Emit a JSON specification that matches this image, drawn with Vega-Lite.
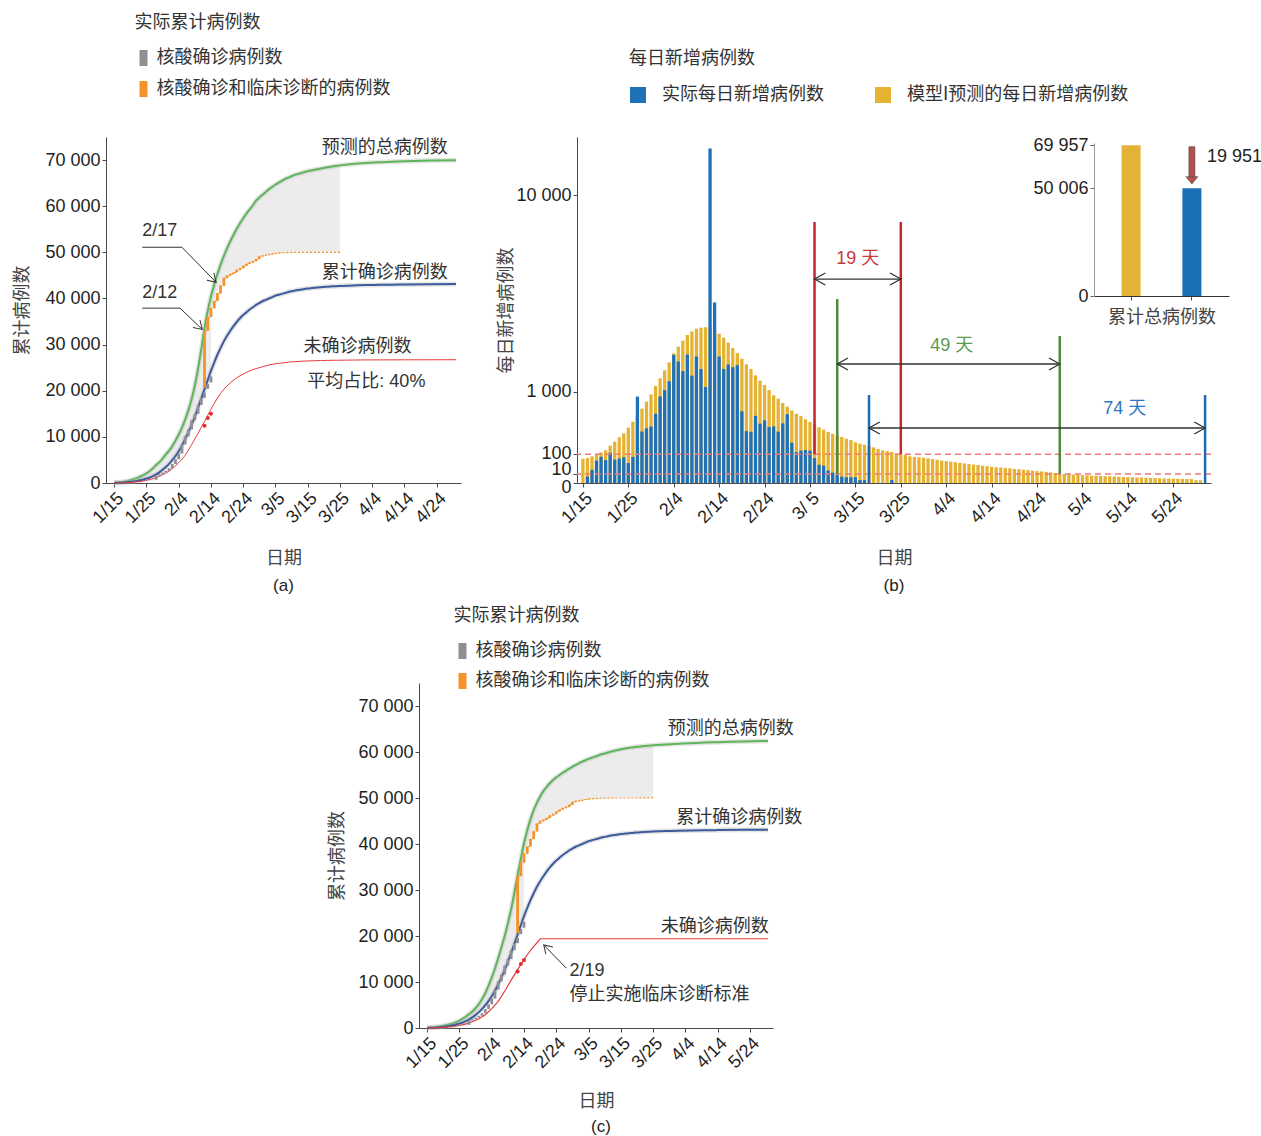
{
  "$schema": "https://vega.github.io/schema/vega-lite/v6.json",
  "padding": {"left": 13, "top": 14, "right": 0, "bottom": 0},
  "columns": 2,
  "align": {"row": "all", "column": "each"},
  "bounds": "flush",
  "spacing": {"row": 200, "column": 116},
  "resolve": {"scale": {"color": "independent"}, "legend": {"color": "independent"}},
  "config": {
    "view": {"stroke": null},
    "font": "Liberation Sans, Noto Sans CJK SC",
    "axis": {"grid": false, "domainColor": "#4a4a4a", "tickColor": "#4a4a4a", "tickSize": 4, "labelFont": "Liberation Sans", "labelFontSize": 18, "labelColor": "#1e1e1e", "labelPadding": 2, "titleFont": "Noto Sans CJK SC", "titleFontSize": 18, "titleFontWeight": "normal", "titleColor": "#444444"},
    "legend": {"titleFont": "Noto Sans CJK SC", "titleFontSize": 18, "titleFontWeight": "normal", "titleColor": "#333333", "labelFont": "Noto Sans CJK SC", "labelFontSize": 18, "labelColor": "#333333", "padding": 0, "labelLimit": 0, "titleLimit": 0},
    "title": {"font": "Liberation Sans", "fontSize": 17, "fontWeight": "normal", "color": "#222222"}
  },
  "datasets": {
    "ca": [
      {"d":0,"g":50,"b":20,"r":0},{"d":1,"g":100,"b":50},{"d":2,"g":200,"b":80,"r":30},{"d":3,"g":300,"b":130},{"d":4,"g":450,"b":190,"r":80},{"d":5,"g":600,"b":260},{"d":6,"g":800,"b":350,"r":180},{"d":7,"g":1050,"b":460},{"d":8,"g":1350,"b":600,"r":330},{"d":9,"g":1700,"b":770},{"d":10,"g":2100,"b":970,"r":580},{"d":11,"g":2600,"b":1200},{"d":12,"g":3200,"b":1500,"r":950},{"d":13,"g":3900,"b":1850},{"d":14,"g":4500,"b":2300,"r":1450},{"d":15,"g":5300,"b":2850},{"d":16,"g":6200,"b":3450,"r":2150},{"d":17,"g":7000,"b":4150},{"d":18,"g":8000,"b":4950,"r":3100},{"d":19,"g":9200,"b":5850},{"d":20,"g":10500,"b":6900,"r":4400},{"d":21,"g":12000,"b":8100},{"d":22,"g":13800,"b":9500,"r":6000},{"d":23,"g":15800,"b":11000},{"d":24,"g":18200,"b":12600,"r":8300},{"d":25,"g":21200,"b":14400},{"d":26,"g":24800,"b":16300,"r":10800},{"d":27,"g":29000,"b":18300},
      {"d":28,"g":33600,"b":20300,"r":13300,"o":32994},{"d":29,"g":37300,"b":22300,"o":35991},{"d":30,"g":40400,"b":24300,"r":16000,"o":37914},{"d":31,"g":43000,"b":26100,"o":39462},{"d":32,"g":45300,"b":27800,"r":18400,"o":41152},{"d":33,"g":47400,"b":29300,"o":42752},{"d":34,"g":49200,"b":30700,"r":20300,"o":44412},{"d":35,"g":50900,"b":31900,"o":45027},{"d":36,"g":52400,"b":33000,"r":21700,"o":45346},{"d":37,"g":53800,"b":34000,"o":45660},{"d":38,"g":55100,"b":34900,"r":22800,"o":46201},{"d":39,"g":56300,"b":35700,"o":46607},{"d":40,"g":57400,"b":36400,"r":23600,"o":47071},{"d":41,"g":58400,"b":37000,"o":47441},{"d":42,"g":59300,"b":37600,"r":24300,"o":47824},{"d":43,"g":60200,"b":38100,"o":48137},{"d":44,"g":61200,"b":38600,"r":24800,"o":48557},{"d":45,"g":61900,"b":39000,"o":49122},{"d":46,"g":62500,"b":39400,"r":25200,"o":49315},{"d":47,"g":63100,"b":39700,"o":49426},{"d":48,"g":63700,"b":40000,"r":25600,"o":49557},{"d":49,"g":64200,"b":40300,"o":49671},{"d":50,"g":64700,"b":40600,"r":25850,"o":49797},{"d":51,"g":65100,"b":40800,"o":49871},{"d":52,"g":65500,"b":41000,"r":26000,"o":49912},{"d":53,"g":65900,"b":41200,"o":49948},{"d":54,"g":66200,"b":41400,"r":26200,"o":49965},{"d":55,"g":66500,"b":41550,"o":49978},{"d":56,"g":66800,"b":41700,"r":26300,"o":49986},{"d":57,"g":67000,"b":41830,"o":49991},{"d":58,"g":67200,"b":41950,"r":26400,"o":49995},{"d":59,"g":67400,"b":42050,"o":49999},{"d":60,"g":67600,"b":42150,"r":26450,"o":50002},{"d":61,"g":67750,"b":42230,"o":50003},{"d":62,"g":67900,"b":42300,"r":26500,"o":50004},{"d":63,"g":68000,"b":42380,"o":50005},{"d":64,"g":68150,"b":42450,"r":26550,"o":50005},{"d":65,"g":68300,"b":42500,"o":50005},{"d":66,"g":68450,"b":42550,"r":26580,"o":50006},{"d":67,"g":68550,"b":42600,"o":50006},{"d":68,"g":68650,"b":42640,"r":26600,"o":50006},{"d":69,"g":68750,"b":42670,"o":50006},{"d":70,"g":68850,"b":42700,"r":26620,"o":50006},
      {"d":74,"g":69150,"b":42800},{"d":78,"g":69350,"b":42900,"r":26680},{"d":82,"g":69500,"b":42950},{"d":86,"g":69650,"b":42990},{"d":90,"g":69750,"b":43020,"r":26700},{"d":98,"g":69880,"b":43080},{"d":106,"g":69957,"b":43120,"r":26720}
    ],
    "cc": [
      {"d":0,"g":50,"b":20,"r":0},{"d":1,"g":100,"b":50},{"d":2,"g":150,"b":80,"r":30},{"d":3,"g":250,"b":130},{"d":4,"g":350,"b":190,"r":80},{"d":5,"g":500,"b":260},{"d":6,"g":650,"b":350,"r":180},{"d":7,"g":820,"b":460},{"d":8,"g":1000,"b":600,"r":330},{"d":9,"g":1280,"b":770},{"d":10,"g":1600,"b":970,"r":550},{"d":11,"g":2030,"b":1200},{"d":12,"g":2500,"b":1500,"r":900},{"d":13,"g":3030,"b":1850},{"d":14,"g":3600,"b":2300,"r":1350},{"d":15,"g":4350,"b":2850},{"d":16,"g":5200,"b":3450,"r":2000},{"d":17,"g":6300,"b":4150},{"d":18,"g":7600,"b":4950,"r":2900},{"d":19,"g":9200,"b":5850},{"d":20,"g":11000,"b":6900,"r":4200},{"d":21,"g":13000,"b":8100},{"d":22,"g":15200,"b":9500,"r":5800},{"d":23,"g":17600,"b":11000},{"d":24,"g":20000,"b":12600,"r":8000},{"d":25,"g":22800,"b":14400},{"d":26,"g":25800,"b":16300,"r":10400},{"d":27,"g":29400,"b":18300},
      {"d":28,"g":33200,"b":20300,"r":12700,"o":32994},{"d":29,"g":36800,"b":22300,"o":35991},{"d":30,"g":40200,"b":24300,"r":14900,"o":37914},{"d":31,"g":43000,"b":26100,"o":39462},{"d":32,"g":45400,"b":27800,"r":16900,"o":41152},{"d":33,"g":47400,"b":29300,"o":42752},{"d":34,"g":49000,"b":30700,"o":44412},{"d":35,"g":50400,"b":31900,"r":19400,"o":45027},{"d":36,"g":51500,"b":33000,"o":45346},{"d":37,"g":52400,"b":34000,"o":45660},{"d":38,"g":53200,"b":34900,"o":46201},{"d":39,"g":53900,"b":35700,"o":46607},{"d":40,"g":54500,"b":36400,"o":47071},{"d":41,"g":55000,"b":37000,"o":47441},{"d":42,"g":55500,"b":37600,"o":47824},{"d":43,"g":55950,"b":38100,"o":48137},{"d":44,"g":56400,"b":38600,"o":48557},{"d":45,"g":56800,"b":39000,"o":49122},{"d":46,"g":57200,"b":39400,"o":49315},{"d":47,"g":57550,"b":39700,"o":49426},{"d":48,"g":57900,"b":40000,"o":49557},{"d":49,"g":58200,"b":40300,"o":49671},{"d":50,"g":58500,"b":40600,"o":49797},{"d":51,"g":58750,"b":40800,"o":49871},{"d":52,"g":59000,"b":41000,"o":49912},{"d":53,"g":59250,"b":41200,"o":49948},{"d":54,"g":59500,"b":41400,"o":49965},{"d":55,"g":59700,"b":41550,"o":49978},{"d":56,"g":59900,"b":41700,"o":49986},{"d":57,"g":60100,"b":41830,"o":49991},{"d":58,"g":60300,"b":41950,"o":49995},{"d":59,"g":60450,"b":42050,"o":49999},{"d":60,"g":60600,"b":42150,"o":50002},{"d":61,"g":60730,"b":42230,"o":50003},{"d":62,"g":60850,"b":42300,"o":50004},{"d":63,"g":60950,"b":42380,"o":50005},{"d":64,"g":61050,"b":42450,"o":50005},{"d":65,"g":61130,"b":42500,"o":50005},{"d":66,"g":61200,"b":42550,"o":50006},{"d":67,"g":61280,"b":42600,"o":50006},{"d":68,"g":61350,"b":42640,"o":50006},{"d":69,"g":61400,"b":42670,"o":50006},{"d":70,"g":61450,"b":42700,"o":50006},
      {"d":74,"g":61650,"b":42800},{"d":78,"g":61800,"b":42900},{"d":82,"g":61920,"b":42950},{"d":86,"g":62050,"b":42990},{"d":90,"g":62130,"b":43020},{"d":98,"g":62300,"b":43080},{"d":105.6,"g":62400,"b":43120,"r":19400}
    ],
    "steps": [
      {"d":10,"lo":495,"hi":572,"k":"核酸确诊病例数"},{"d":11,"lo":572,"hi":618,"k":"核酸确诊病例数"},{"d":12,"lo":618,"hi":698,"k":"核酸确诊病例数"},{"d":13,"lo":698,"hi":1590,"k":"核酸确诊病例数"},{"d":14,"lo":1590,"hi":1905,"k":"核酸确诊病例数"},{"d":15,"lo":1905,"hi":2261,"k":"核酸确诊病例数"},{"d":16,"lo":2261,"hi":2639,"k":"核酸确诊病例数"},{"d":17,"lo":2639,"hi":3215,"k":"核酸确诊病例数"},{"d":18,"lo":3215,"hi":4109,"k":"核酸确诊病例数"},{"d":19,"lo":4109,"hi":5142,"k":"核酸确诊病例数"},{"d":20,"lo":5142,"hi":6384,"k":"核酸确诊病例数"},{"d":21,"lo":6384,"hi":8351,"k":"核酸确诊病例数"},{"d":22,"lo":8351,"hi":10117,"k":"核酸确诊病例数"},{"d":23,"lo":10117,"hi":11618,"k":"核酸确诊病例数"},{"d":24,"lo":11618,"hi":13603,"k":"核酸确诊病例数"},{"d":25,"lo":13603,"hi":14982,"k":"核酸确诊病例数"},{"d":26,"lo":14982,"hi":16902,"k":"核酸确诊病例数"},{"d":27,"lo":16902,"hi":18454,"k":"核酸确诊病例数"},{"d":28,"lo":18454,"hi":19558,"k":"核酸确诊病例数"},{"d":29,"lo":20400,"hi":21500,"k":"核酸确诊病例数"},{"d":30,"lo":21800,"hi":23100,"k":"核酸确诊病例数"},
      {"d":28,"lo":20630,"hi":32994,"k":"核酸确诊和临床诊断的病例数"},{"d":29,"lo":32994,"hi":35991,"k":"核酸确诊和临床诊断的病例数"},{"d":30,"lo":35991,"hi":37914,"k":"核酸确诊和临床诊断的病例数"},{"d":31,"lo":37914,"hi":39462,"k":"核酸确诊和临床诊断的病例数"},{"d":32,"lo":39462,"hi":41152,"k":"核酸确诊和临床诊断的病例数"},{"d":33,"lo":41152,"hi":42752,"k":"核酸确诊和临床诊断的病例数"},{"d":34,"lo":42752,"hi":44412,"k":"核酸确诊和临床诊断的病例数"},{"d":35,"lo":44412,"hi":45027,"k":"核酸确诊和临床诊断的病例数"},{"d":36,"lo":45027,"hi":45346,"k":"核酸确诊和临床诊断的病例数"},{"d":37,"lo":45346,"hi":45660,"k":"核酸确诊和临床诊断的病例数"},{"d":38,"lo":45660,"hi":46201,"k":"核酸确诊和临床诊断的病例数"},{"d":39,"lo":46201,"hi":46607,"k":"核酸确诊和临床诊断的病例数"},{"d":40,"lo":46607,"hi":47071,"k":"核酸确诊和临床诊断的病例数"},{"d":41,"lo":47071,"hi":47441,"k":"核酸确诊和临床诊断的病例数"},{"d":42,"lo":47441,"hi":47824,"k":"核酸确诊和临床诊断的病例数"},{"d":43,"lo":47824,"hi":48137,"k":"核酸确诊和临床诊断的病例数"},{"d":44,"lo":48137,"hi":48557,"k":"核酸确诊和临床诊断的病例数"},{"d":45,"lo":48557,"hi":49122,"k":"核酸确诊和临床诊断的病例数"},{"d":46,"lo":49122,"hi":49315,"k":"核酸确诊和临床诊断的病例数"},{"d":47,"lo":49315,"hi":49426,"k":"核酸确诊和临床诊断的病例数"},{"d":48,"lo":49426,"hi":49557,"k":"核酸确诊和临床诊断的病例数"},{"d":49,"lo":49557,"hi":49671,"k":"核酸确诊和临床诊断的病例数"},{"d":50,"lo":49671,"hi":49797,"k":"核酸确诊和临床诊断的病例数"},{"d":51,"lo":49797,"hi":49871,"k":"核酸确诊和临床诊断的病例数"},{"d":52,"lo":49871,"hi":49912,"k":"核酸确诊和临床诊断的病例数"},{"d":53,"lo":49912,"hi":49948,"k":"核酸确诊和临床诊断的病例数"},{"d":54,"lo":49948,"hi":49965,"k":"核酸确诊和临床诊断的病例数"},{"d":55,"lo":49965,"hi":49978,"k":"核酸确诊和临床诊断的病例数"},{"d":56,"lo":49978,"hi":49986,"k":"核酸确诊和临床诊断的病例数"}
    ],
    "daily": [
      {"d":0,"m":71,"a":0},{"d":1,"m":75,"a":5},{"d":2,"m":86,"a":21},{"d":3,"m":97,"a":60},{"d":4,"m":113,"a":83},{"d":5,"m":129,"a":63},{"d":6,"m":168,"a":110},{"d":7,"m":206,"a":66},{"d":8,"m":251,"a":72},{"d":9,"m":297,"a":80},{"d":10,"m":369,"a":48},{"d":11,"m":453,"a":82},{"d":12,"m":545,"a":900},{"d":13,"m":666,"a":320},{"d":14,"m":798,"a":360},{"d":15,"m":948,"a":385},{"d":16,"m":1134,"a":578},{"d":17,"m":1321,"a":903},{"d":18,"m":1530,"a":1040},{"d":19,"m":1755,"a":1250},{"d":20,"m":2027,"a":1980},{"d":21,"m":2241,"a":1780},{"d":22,"m":2442,"a":1510},{"d":23,"m":2640,"a":1990},{"d":24,"m":2770,"a":1390},{"d":25,"m":2872,"a":1930},{"d":26,"m":2909,"a":1565},{"d":27,"m":2921,"a":1110},{"d":28,"m":2900,"a":13500},{"d":29,"m":2800,"a":3930},{"d":30,"m":2689,"a":1928},{"d":31,"m":2546,"a":1565},{"d":32,"m":2374,"a":1694},{"d":33,"m":2197,"a":1615},{"d":34,"m":2037,"a":1675},{"d":35,"m":1864,"a":620},{"d":36,"m":1698,"a":325},{"d":37,"m":1567,"a":316},{"d":38,"m":1398,"a":544},{"d":39,"m":1263,"a":424},{"d":40,"m":1158,"a":473},{"d":41,"m":1043,"a":378},{"d":42,"m":927,"a":387},{"d":43,"m":857,"a":318},{"d":44,"m":772,"a":429},{"d":45,"m":702,"a":570},{"d":46,"m":631,"a":195},{"d":47,"m":577,"a":115},{"d":48,"m":544,"a":126},{"d":49,"m":489,"a":130},{"d":50,"m":449,"a":126},{"d":51,"m":410,"a":75},{"d":52,"m":374,"a":40},{"d":53,"m":343,"a":36},{"d":54,"m":314,"a":19},{"d":55,"m":293,"a":13},{"d":56,"m":274,"a":8},{"d":57,"m":255,"a":5},{"d":58,"m":237,"a":4},{"d":59,"m":223,"a":4},{"d":60,"m":199,"a":4},{"d":61,"m":187,"a":1},{"d":62,"m":177,"a":1},{"d":63,"m":165,"a":0},{"d":64,"m":153,"a":0},{"d":65,"m":139,"a":0},{"d":66,"m":129,"a":0},{"d":67,"m":123,"a":0},{"d":68,"m":116,"a":1},
      {"d":69,"m":106},{"d":70,"m":101},{"d":71,"m":95},{"d":72,"m":86},{"d":73,"m":82},{"d":74,"m":80},{"d":75,"m":77},{"d":76,"m":73},{"d":77,"m":69},{"d":78,"m":65},{"d":79,"m":61},{"d":80,"m":58},{"d":81,"m":55},{"d":82,"m":52},{"d":83,"m":49},{"d":84,"m":46},{"d":85,"m":44},{"d":86,"m":41},{"d":87,"m":39},{"d":88,"m":36},{"d":89,"m":34},{"d":90,"m":32},{"d":91,"m":30},{"d":92,"m":29},{"d":93,"m":27},{"d":94,"m":26},{"d":95,"m":24},{"d":96,"m":23},{"d":97,"m":21},{"d":98,"m":20},{"d":99,"m":18.5},{"d":100,"m":17},{"d":101,"m":16},{"d":102,"m":14.8},{"d":103,"m":13.6},{"d":104,"m":12.2},{"d":105,"m":10.5},{"d":106,"m":9.8},{"d":107,"m":9.2},{"d":108,"m":8.6},{"d":109,"m":8.1},{"d":110,"m":7.6},{"d":111,"m":7.1},{"d":112,"m":6.7},{"d":113,"m":6.3},{"d":114,"m":5.9},{"d":115,"m":5.6},{"d":116,"m":5.3},{"d":117,"m":5.0},{"d":118,"m":4.7},{"d":119,"m":4.4},{"d":120,"m":4.1},{"d":121,"m":3.9},{"d":122,"m":3.7},{"d":123,"m":3.5},{"d":124,"m":3.3},{"d":125,"m":3.1},{"d":126,"m":2.9},{"d":127,"m":2.7},{"d":128,"m":2.6},{"d":129,"m":2.4},{"d":130,"m":2.3},{"d":131,"m":2.2},{"d":132,"m":2.0},{"d":133,"m":1.9},{"d":134,"m":1.8},{"d":135,"m":1.0},{"d":136,"m":0.9}
    ],
    "vr": [{"d":51,"y1":100,"y2":8213,"g":"r"},{"d":70,"y1":100,"y2":8213,"g":"r"},{"d":56,"y1":10,"y2":4082,"g":"g"},{"d":105,"y1":10,"y2":2605,"g":"g"},{"d":63,"y1":0,"y2":934,"g":"b"},{"d":137,"y1":0,"y2":934,"g":"b"}],
    "arr": [{"d1":51,"d2":70,"y":5015},{"d1":56,"d2":105,"y":1707},{"d1":63,"d2":137,"y":365}],
    "btext": [{"d":60.5,"y":6049,"t":"19 天","g":"r"},{"d":81.2,"y":2263,"t":"49 天","g":"g"},{"d":119.3,"y":660,"t":"74 天","g":"b"}],
    "thresholds": [{"v":100},{"v":10}],
    "inset": [{"c":"模型I","v":69957},{"c":"实际","v":50006}],
    "dots_a": [{"d":28,"v":12400},{"d":29,"v":14100},{"d":30,"v":15000}],
    "dots_c": [{"d":28,"v":12300},{"d":29,"v":13900},{"d":30,"v":14800}],
    "lead_a": [{"id":1,"o":1,"d":8.7,"v":51100},{"id":1,"o":2,"d":21.0,"v":51100},{"id":1,"o":3,"d":31.6,"v":43500},{"id":2,"o":1,"d":8.7,"v":37900},{"id":2,"o":2,"d":20.4,"v":37900},{"id":2,"o":3,"d":27.3,"v":33300}],
    "head_a": [{"d":31.6,"v":43500},{"d":27.3,"v":33300}],
    "text_a": [{"d":8.7,"v":54600,"t":"2/17"},{"d":8.7,"v":41100,"t":"2/12"},{"d":64.4,"v":72600,"t":"预测的总病例数"},{"d":64.4,"v":45500,"t":"累计确诊病例数"},{"d":58.7,"v":29400,"t":"未确诊病例数"},{"d":59.9,"v":21800,"t":"平均占比: 40%"}],
    "lead_c": [{"id":1,"o":1,"d":43.1,"v":13000},{"id":1,"o":2,"d":36.1,"v":18050}],
    "head_c": [{"d":36.1,"v":18050}],
    "text_c": [{"d":74.5,"v":65100,"t":"预测的总病例数"},{"d":77.2,"v":45600,"t":"累计确诊病例数"},{"d":72.4,"v":22000,"t":"未确诊病例数"},{"d":44.1,"v":12300,"t":"2/19"},{"d":44.1,"v":7250,"t":"停止实施临床诊断标准"}]
  },
  "concat": [
    {
      "width": 355, "height": 346,
      "title": {"text": "(a)", "orient": "bottom", "offset": 10},
      "encoding": {"x": {"field": "d", "type": "quantitative", "scale": {"domain": [-1, 106], "nice": false, "zero": false}, "axis": {"values": [0,10,20,30,40,50,60,70,80,90,100], "labelExpr": "utcFormat(utc(2020, 0, 15 + datum.value), '%-m/%-d')", "labelAngle": -45, "labelOverlap": false, "title": "日期", "titlePadding": 23}}},
      "layer": [
        {"data": {"name": "ca"}, "transform": [{"filter": "datum.d <= 30"}], "mark": {"type": "area", "color": "#ececec", "interpolate": "monotone"}, "encoding": {"y": {"field": "g", "type": "quantitative", "scale": {"domain": [0, 75000], "nice": false}, "axis": {"values": [0,10000,20000,30000,40000,50000,60000,70000], "labelExpr": "replace(format(datum.value, ',d'), ',', ' ')", "title": "累计病例数", "titlePadding": 13}}, "y2": {"field": "b"}}},
        {"data": {"name": "ca"}, "transform": [{"filter": "datum.d >= 28 && datum.d <= 70"}], "mark": {"type": "area", "color": "#ececec", "interpolate": "linear"}, "encoding": {"y": {"field": "g", "type": "quantitative"}, "y2": {"field": "o"}}},
        {"data": {"name": "ca"}, "mark": {"type": "line", "color": "#b5b5b5", "strokeWidth": 5, "opacity": 0.35, "interpolate": "monotone"}, "encoding": {"y": {"field": "g", "type": "quantitative"}}},
        {"data": {"name": "ca"}, "mark": {"type": "line", "color": "#5db55a", "strokeWidth": 2, "interpolate": "monotone"}, "encoding": {"y": {"field": "g", "type": "quantitative"}}},
        {"data": {"name": "ca"}, "mark": {"type": "line", "color": "#b5b5b5", "strokeWidth": 5, "opacity": 0.35, "interpolate": "monotone"}, "encoding": {"y": {"field": "b", "type": "quantitative"}}},
        {"data": {"name": "ca"}, "mark": {"type": "line", "color": "#3b5b9c", "strokeWidth": 2, "interpolate": "monotone"}, "encoding": {"y": {"field": "b", "type": "quantitative"}}},
        {"data": {"name": "ca"}, "mark": {"type": "line", "color": "#e53a3a", "strokeWidth": 1, "interpolate": "monotone", "invalid": "filter"}, "encoding": {"y": {"field": "r", "type": "quantitative"}}},
        {"data": {"name": "ca"}, "mark": {"type": "line", "color": "#f5922a", "strokeWidth": 1.2, "strokeDash": [2, 2], "interpolate": "step-after", "invalid": "filter"}, "encoding": {"y": {"field": "o", "type": "quantitative"}}},
        {"data": {"name": "steps"}, "mark": {"type": "bar", "size": 2.8, "orient": "vertical"}, "encoding": {"y": {"field": "lo", "type": "quantitative"}, "y2": {"field": "hi"}, "color": {"field": "k", "type": "nominal", "scale": {"domain": ["核酸确诊病例数", "核酸确诊和临床诊断的病例数"], "range": ["#8e8e94", "#f5922a"]}, "legend": {"orient": "none", "legendX": 28.5, "legendY": -123, "title": "实际累计病例数", "direction": "vertical", "symbolType": "M-0.5,-1H0.5V1H-0.5Z", "symbolSize": 256, "symbolStrokeWidth": 0, "symbolOpacity": 1, "rowPadding": 13, "titlePadding": 17, "labelOffset": 4}}}},
        {"data": {"name": "dots_a"}, "mark": {"type": "point", "filled": true, "color": "#e8282b", "size": 16, "opacity": 1}, "encoding": {"y": {"field": "v", "type": "quantitative"}}},
        {"data": {"name": "lead_a"}, "mark": {"type": "line", "color": "#333333", "strokeWidth": 1}, "encoding": {"y": {"field": "v", "type": "quantitative"}, "detail": {"field": "id"}, "order": {"field": "o"}}},
        {"data": {"name": "head_a"}, "mark": {"type": "point", "shape": "M-1.6,-1L0,0L-1.6,1", "size": 100, "angle": 44, "filled": false, "color": "#333333", "strokeWidth": 1, "opacity": 1}, "encoding": {"y": {"field": "v", "type": "quantitative"}}},
        {"data": {"name": "text_a"}, "mark": {"type": "text", "align": "left", "baseline": "middle", "fontSize": 18, "color": "#333333"}, "encoding": {"y": {"field": "v", "type": "quantitative"}, "text": {"field": "t"}}}
      ]
    },
    {
      "width": 634, "height": 346,
      "title": {"text": "(b)", "orient": "bottom", "offset": 10},
      "resolve": {"scale": {"x": "independent", "y": "independent"}, "axis": {"x": "independent", "y": "independent"}},
      "layer": [
        {
          "layer": [
            {"data": {"name": "daily"}, "mark": {"type": "bar", "size": 3.3, "orient": "vertical"}, "encoding": {
              "x": {"field": "d", "type": "quantitative", "scale": {"domain": [-0.2, 137.2], "nice": false, "zero": false}, "axis": {"values": [0,10,20,30,40,50,60,70,80,90,100,110,120,130], "labelExpr": "datum.value == 50 ? '3/ 5' : utcFormat(utc(2020, 0, 15 + datum.value), '%-m/%-d')", "labelAngle": -45, "labelOverlap": false, "title": "日期", "titlePadding": 23}},
              "y": {"field": "m", "type": "quantitative", "scale": {"type": "sqrt", "domain": [0, 14434], "nice": false}, "axis": {"values": [0, 10, 100, 1000, 10000], "labelExpr": "replace(format(datum.value, ',d'), ',', ' ')", "labelOverlap": false, "labelOffset": {"condition": [{"test": "datum.value == 10", "value": -4}, {"test": "datum.value == 0", "value": 4}, {"test": "datum.value == 100", "value": -1}], "value": 0}, "title": "每日新增病例数", "titlePadding": 0}},
              "color": {"datum": "模型I预测的每日新增病例数", "type": "nominal", "scale": {"domain": ["实际每日新增病例数", "模型I预测的每日新增病例数"], "range": ["#1f72b8", "#e6b232"]}, "legend": {"orient": "none", "legendX": 52, "legendY": -87, "title": "每日新增病例数", "direction": "horizontal", "symbolType": "square", "symbolSize": 256, "symbolStrokeWidth": 0, "symbolOpacity": 1, "titlePadding": 18, "labelOffset": 15, "columnPadding": 50}}
            }},
            {"data": {"name": "daily"}, "mark": {"type": "bar", "size": 3.3, "orient": "vertical", "invalid": "filter"}, "encoding": {"x": {"field": "d", "type": "quantitative"}, "y": {"field": "a", "type": "quantitative"}, "color": {"datum": "实际每日新增病例数", "type": "nominal"}}},
            {"data": {"name": "thresholds"}, "mark": {"type": "rule", "color": "#f07b7b", "strokeWidth": 1.5, "strokeDash": [6, 4]}, "encoding": {"y": {"field": "v", "type": "quantitative"}}},
            {"data": {"name": "vr"}, "mark": {"type": "rule", "strokeWidth": 2.5}, "encoding": {"x": {"field": "d", "type": "quantitative"}, "y": {"field": "y1", "type": "quantitative"}, "y2": {"field": "y2"}, "color": {"condition": [{"test": "datum.g === 'r'", "value": "#c1272d"}, {"test": "datum.g === 'g'", "value": "#4d8a3c"}], "value": "#1a6db5"}}},
            {"data": {"name": "arr"}, "mark": {"type": "rule", "color": "#333333", "strokeWidth": 1.3}, "encoding": {"x": {"field": "d1", "type": "quantitative"}, "x2": {"field": "d2"}, "y": {"field": "y", "type": "quantitative"}}},
            {"data": {"name": "arr"}, "mark": {"type": "point", "shape": "M1.8,-1L0,0L1.8,1", "size": 144, "filled": false, "color": "#333333", "strokeWidth": 1.3, "opacity": 1}, "encoding": {"x": {"field": "d1", "type": "quantitative"}, "y": {"field": "y", "type": "quantitative"}}},
            {"data": {"name": "arr"}, "mark": {"type": "point", "shape": "M-1.8,-1L0,0L-1.8,1", "size": 144, "filled": false, "color": "#333333", "strokeWidth": 1.3, "opacity": 1}, "encoding": {"x": {"field": "d2", "type": "quantitative"}, "y": {"field": "y", "type": "quantitative"}}},
            {"data": {"name": "btext"}, "mark": {"type": "text", "align": "center", "baseline": "middle", "fontSize": 18}, "encoding": {"x": {"field": "d", "type": "quantitative"}, "y": {"field": "y", "type": "quantitative"}, "text": {"field": "t"}, "color": {"condition": [{"test": "datum.g === 'r'", "value": "#c8393c"}, {"test": "datum.g === 'g'", "value": "#5a9a4a"}], "value": "#2a76c0"}}}
          ]
        },
        {
          "layer": [
            {"data": {"name": "inset"}, "mark": {"type": "bar"}, "encoding": {
              "x": {"field": "c", "type": "nominal", "sort": null, "scale": {"domain": ["模型I", "实际"], "range": [517, 652], "paddingInner": 0.6875, "paddingOuter": 0.454}, "axis": {"orient": "bottom", "offset": -187, "labels": false, "ticks": true, "title": "累计总病例数", "titlePadding": 8, "domainColor": "#333333"}},
              "y": {"field": "v", "type": "quantitative", "scale": {"domain": [0, 71000], "range": [159, 6], "nice": false}, "axis": {"orient": "left", "offset": -517, "values": [0, 50006, 69957], "labelExpr": "replace(format(datum.value, ',d'), ',', ' ')", "labelOverlap": false, "title": null, "domainColor": "#999999", "tickColor": "#666666"}},
              "color": {"condition": {"test": "datum.c === '实际'", "value": "#1a6fb5"}, "value": "#e4b236"}
            }},
            {"data": {"values": [{"c": "实际", "y1": 55360, "y2": 69280}]}, "mark": {"type": "bar", "size": 6, "color": "#b5504a", "stroke": "#4a4a4a", "strokeWidth": 0.6}, "encoding": {"x": {"field": "c", "type": "nominal"}, "y": {"field": "y1", "type": "quantitative"}, "y2": {"field": "y2"}}},
            {"data": {"values": [{"c": "实际", "v": 53670}]}, "mark": {"type": "point", "shape": "M-1,-0.6L1,-0.6L0,0.6Z", "size": 144, "filled": true, "color": "#b5504a", "stroke": "#4a4a4a", "strokeWidth": 0.6, "opacity": 1}, "encoding": {"x": {"field": "c", "type": "nominal"}, "y": {"field": "v", "type": "quantitative"}}},
            {"data": {"values": [{"c": "实际", "v": 64500, "t": "19 951"}]}, "mark": {"type": "text", "align": "left", "baseline": "middle", "dx": 15, "fontSize": 18, "font": "Liberation Sans", "color": "#1e1e1e"}, "encoding": {"x": {"field": "c", "type": "nominal"}, "y": {"field": "v", "type": "quantitative"}, "text": {"field": "t"}}}
          ]
        }
      ]
    },
    {
      "width": 355, "height": 345,
      "title": {"text": "(c)", "orient": "bottom", "offset": 8, "frame": "group", "dx": 317.5},
      "encoding": {"x": {"field": "d", "type": "quantitative", "scale": {"domain": [-1, 105.6], "range": [313, 667], "nice": false, "zero": false}, "axis": {"values": [0,10,20,30,40,50,60,70,80,90,100], "labelExpr": "datum.value == 100 ? '5/24' : utcFormat(utc(2020, 0, 15 + datum.value), '%-m/%-d')", "labelAngle": -45, "labelOverlap": false, "title": "日期", "titlePadding": 21}}},
      "layer": [
        {"data": {"name": "cc"}, "transform": [{"filter": "datum.d <= 30"}], "mark": {"type": "area", "color": "#ececec", "interpolate": "monotone"}, "encoding": {"y": {"field": "g", "type": "quantitative", "scale": {"domain": [0, 75000], "nice": false}, "axis": {"values": [0,10000,20000,30000,40000,50000,60000,70000], "labelExpr": "replace(format(datum.value, ',d'), ',', ' ')", "title": "累计病例数", "titlePadding": 11, "offset": -313}}, "y2": {"field": "b"}}},
        {"data": {"name": "cc"}, "transform": [{"filter": "datum.d >= 28 && datum.d <= 70"}], "mark": {"type": "area", "color": "#ececec", "interpolate": "linear"}, "encoding": {"y": {"field": "g", "type": "quantitative"}, "y2": {"field": "o"}}},
        {"data": {"name": "cc"}, "mark": {"type": "line", "color": "#b5b5b5", "strokeWidth": 5, "opacity": 0.35, "interpolate": "monotone"}, "encoding": {"y": {"field": "g", "type": "quantitative"}}},
        {"data": {"name": "cc"}, "mark": {"type": "line", "color": "#5db55a", "strokeWidth": 2, "interpolate": "monotone"}, "encoding": {"y": {"field": "g", "type": "quantitative"}}},
        {"data": {"name": "cc"}, "mark": {"type": "line", "color": "#b5b5b5", "strokeWidth": 5, "opacity": 0.35, "interpolate": "monotone"}, "encoding": {"y": {"field": "b", "type": "quantitative"}}},
        {"data": {"name": "cc"}, "mark": {"type": "line", "color": "#3b5b9c", "strokeWidth": 2, "interpolate": "monotone"}, "encoding": {"y": {"field": "b", "type": "quantitative"}}},
        {"data": {"name": "cc"}, "mark": {"type": "line", "color": "#e53a3a", "strokeWidth": 1.2, "interpolate": "linear", "invalid": "filter"}, "encoding": {"y": {"field": "r", "type": "quantitative"}}},
        {"data": {"name": "cc"}, "mark": {"type": "line", "color": "#f5922a", "strokeWidth": 1.2, "strokeDash": [2, 2], "interpolate": "step-after", "invalid": "filter"}, "encoding": {"y": {"field": "o", "type": "quantitative"}}},
        {"data": {"name": "steps"}, "mark": {"type": "bar", "size": 2.8, "orient": "vertical"}, "encoding": {"y": {"field": "lo", "type": "quantitative"}, "y2": {"field": "hi"}, "color": {"field": "k", "type": "nominal", "scale": {"domain": ["核酸确诊病例数", "核酸确诊和临床诊断的病例数"], "range": ["#8e8e94", "#f5922a"]}, "legend": {"orient": "none", "legendX": 347.5, "legendY": -76, "title": "实际累计病例数", "direction": "vertical", "symbolType": "M-0.5,-1H0.5V1H-0.5Z", "symbolSize": 256, "symbolStrokeWidth": 0, "symbolOpacity": 1, "rowPadding": 12, "titlePadding": 17, "labelOffset": 4}}}},
        {"data": {"name": "dots_c"}, "mark": {"type": "point", "filled": true, "color": "#e8282b", "size": 16, "opacity": 1}, "encoding": {"y": {"field": "v", "type": "quantitative"}}},
        {"data": {"name": "lead_c"}, "mark": {"type": "line", "color": "#333333", "strokeWidth": 1}, "encoding": {"y": {"field": "v", "type": "quantitative"}, "detail": {"field": "id"}, "order": {"field": "o"}}},
        {"data": {"name": "head_c"}, "mark": {"type": "point", "shape": "M-1.6,-1L0,0L-1.6,1", "size": 100, "angle": 225, "filled": false, "color": "#333333", "strokeWidth": 1, "opacity": 1}, "encoding": {"y": {"field": "v", "type": "quantitative"}}},
        {"data": {"name": "text_c"}, "mark": {"type": "text", "align": "left", "baseline": "middle", "fontSize": 18, "color": "#333333"}, "encoding": {"y": {"field": "v", "type": "quantitative"}, "text": {"field": "t"}}}
      ]
    }
  ]
}
